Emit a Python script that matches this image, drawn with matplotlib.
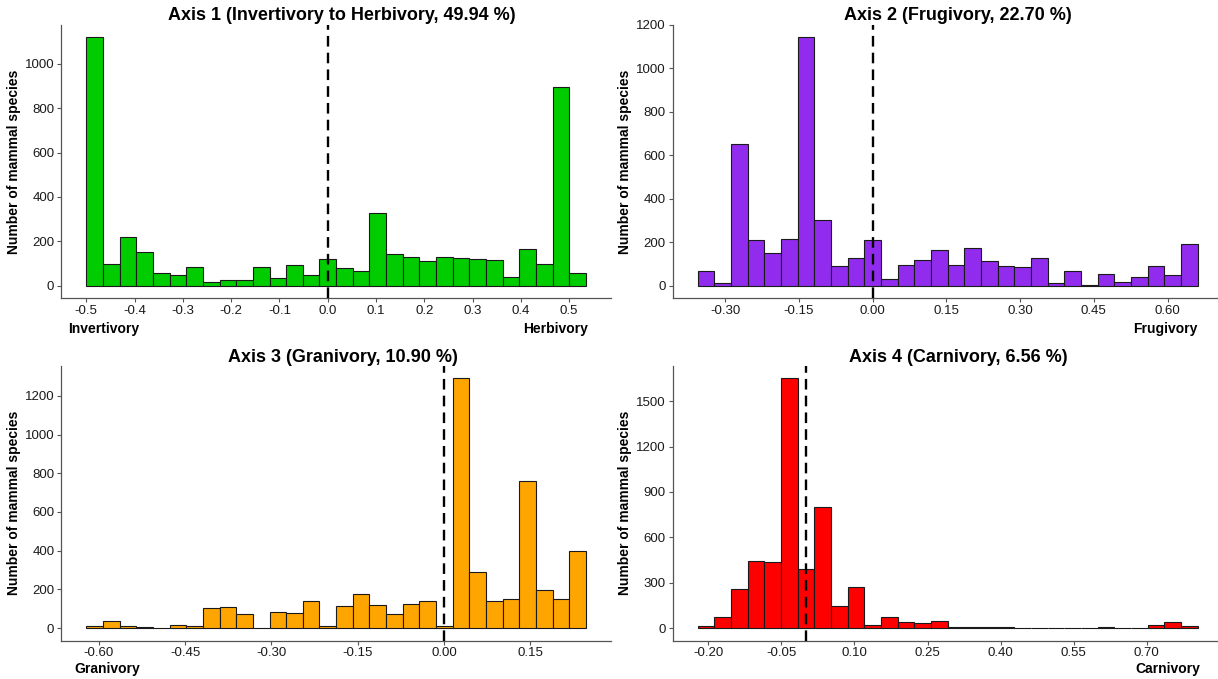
import matplotlib
matplotlib.use("Agg")
import matplotlib.pyplot as plt
import numpy as np

plt.rcParams['font.family'] = ['Liberation Sans', 'DejaVu Sans']
plt.rcParams['axes.unicode_minus'] = False

# histogram counts (30 bins per axis)
axis1_counts = [1120, 97, 220, 152, 60, 48, 83, 17, 28, 25, 83, 35, 92, 48, 122,
                80, 67, 328, 145, 130, 112, 128, 125, 122, 115, 40, 165, 97, 893, 57]
axis2_counts = [70, 12, 652, 212, 152, 215, 1145, 305, 92, 128, 210, 30, 95, 118, 165,
                95, 175, 113, 90, 85, 128, 12, 68, 5, 55, 18, 43, 90, 48, 192]
axis3_counts = [13, 35, 13, 5, 0, 18, 8, 105, 108, 75, 0, 85, 78, 140, 13,
                112, 175, 118, 72, 122, 140, 12, 1290, 292, 140, 148, 762, 197, 152, 397]
axis4_counts = [13, 75, 255, 442, 438, 1650, 392, 797, 148, 268, 20, 75, 42, 30, 45,
                8, 8, 8, 8, 2, 3, 3, 1, 3, 8, 1, 3, 18, 42, 13]

# outer edges of the binned range for each axis
axis1_range = (-0.500, 0.535)
axis2_range = (-0.356, 0.661)
axis3_range = (-0.6216, 0.2466)
axis4_range = (-0.222, 0.804)

titles = ['Axis 1 (Invertivory to Herbivory, 49.94 %)',
          'Axis 2 (Frugivory, 22.70 %)',
          'Axis 3 (Granivory, 10.90 %)',
          'Axis 4 (Carnivory, 6.56 %)']

axis1_ticks = [-0.5, -0.4, -0.3, -0.2, -0.1, 0.0, 0.1, 0.2, 0.3, 0.4, 0.5]
axis2_ticks = [-0.30, -0.15, 0.00, 0.15, 0.30, 0.45, 0.60]
axis3_ticks = [-0.60, -0.45, -0.30, -0.15, 0.00, 0.15]
axis4_ticks = [-0.20, -0.05, 0.10, 0.25, 0.40, 0.55, 0.70]

axis1_yticks = [0, 200, 400, 600, 800, 1000]
axis2_yticks = [0, 200, 400, 600, 800, 1000, 1200]
axis3_yticks = [0, 200, 400, 600, 800, 1000, 1200]
axis4_yticks = [0, 300, 600, 900, 1200, 1500]

W, H = 1218, 679
fig = plt.figure(figsize=(W / 100, H / 100), dpi=100)


def add_panel(left, top, right, bottom):
    return fig.add_axes([left / W, 1 - bottom / H, (right - left) / W, (bottom - top) / H])


def draw_hist(ax, counts, rng, color, title, xticks, fmt, yticks, title_x):
    counts = np.array(counts)
    edges = np.linspace(rng[0], rng[1], len(counts) + 1)
    ax.bar(edges[:-1], counts, width=np.diff(edges), align='edge',
           color=color, edgecolor='#1a1a1a', linewidth=0.8, zorder=2)
    span = rng[1] - rng[0]
    ax.set_xlim(rng[0] - 0.05 * span, rng[1] + 0.05 * span)
    ax.set_ylim(-0.05 * counts.max(), 1.05 * counts.max())
    ax.axvline(0, color='black', linewidth=1.7, dashes=(4.5, 2.6), zorder=3)

    ax.set_xticks(xticks)
    ax.set_xticklabels([fmt.format(t) for t in xticks])
    ax.set_yticks(yticks)
    ax.tick_params(length=3, width=0.8, color='#555555', labelsize=9.5,
                   labelcolor='#1a1a1a', pad=2)
    for s in ['top', 'right']:
        ax.spines[s].set_visible(False)
    for s in ['left', 'bottom']:
        ax.spines[s].set_color('#555555')
        ax.spines[s].set_linewidth(0.9)
    ax.set_ylabel('Number of mammal species', fontsize=10, fontweight='bold', labelpad=3)
    ax.set_title(title, fontsize=13, fontweight='bold', pad=2, x=title_x)


ax1 = add_panel(61.3, 24.5, 611, 298.3)
ax2 = add_panel(672.5, 24.5, 1222.5, 298.3)
ax3 = add_panel(61.3, 366, 611, 640.5)
ax4 = add_panel(672.5, 366, 1222.5, 640.5)

draw_hist(ax1, axis1_counts, axis1_range, '#00CC00', titles[0], axis1_ticks, '{:.1f}', axis1_yticks, 0.511)
draw_hist(ax2, axis2_counts, axis2_range, '#912CEE', titles[1], axis2_ticks, '{:.2f}', axis2_yticks, 0.519)
draw_hist(ax3, axis3_counts, axis3_range, '#FFA500', titles[2], axis3_ticks, '{:.2f}', axis3_yticks, 0.512)
draw_hist(ax4, axis4_counts, axis4_range, '#FF0000', titles[3], axis4_ticks, '{:.2f}', axis4_yticks, 0.519)

# end labels under the x axes
lab = dict(fontsize=10, fontweight='bold', va='center')
fig.text(68 / W, 1 - 329 / H, 'Invertivory', ha='left', **lab)
fig.text(588 / W, 1 - 329 / H, 'Herbivory', ha='right', **lab)
fig.text(1197 / W, 1 - 329 / H, 'Frugivory', ha='right', **lab)
fig.text(74 / W, 1 - 669 / H, 'Granivory', ha='left', **lab)
fig.text(1200 / W, 1 - 669 / H, 'Carnivory', ha='right', **lab)

fig.savefig('out.png', dpi=100)
